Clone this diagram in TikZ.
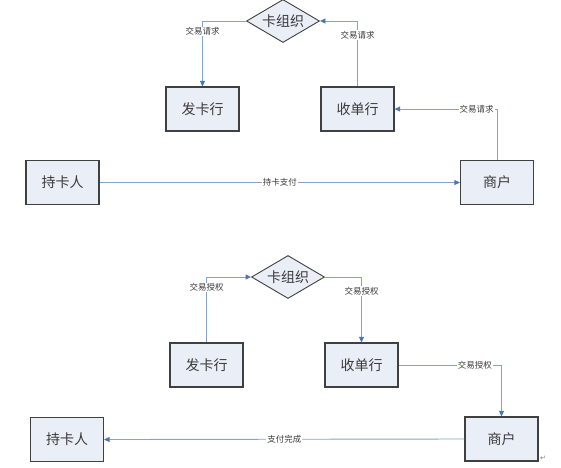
\documentclass[tikz,border=0pt]{standalone}
\usepackage{fontspec}
\setmainfont{Noto Sans CJK SC}
\newfontfamily\symfont{DejaVu Sans}
\usetikzlibrary{shapes.geometric,arrows.meta}
\definecolor{boxfill}{HTML}{E9EEF7}
\definecolor{boxline}{HTML}{404040}
\definecolor{conn}{HTML}{86A3CB}
\definecolor{tipc}{HTML}{4A76B5}
\definecolor{txt}{HTML}{3A3A3A}
\begin{document}
\begin{tikzpicture}[x=1pt,y=-1pt,
  box/.style={draw=boxline, line width=1.2pt, fill=boxfill, minimum width=73pt, minimum height=44pt, inner sep=0pt, text=txt, font=\fontsize{14}{16}\selectfont},
  org/.style={diamond, draw=boxline, line width=0.9pt, fill=boxfill, aspect=1.7, minimum width=73pt, minimum height=43pt, inner sep=0pt, text=txt, font=\fontsize{14}{16}\selectfont},
  conn/.style={draw=conn, line width=0.9pt, -{Triangle[length=5.5pt,width=5pt,color=tipc]}},
  lbl/.style={fill=white, inner sep=1pt, text=txt, font=\fontsize{8.5}{10}\selectfont}]
\useasboundingbox (0,0) rectangle (561,467);
% top diagram
\node[org] (org1) at (283,21) {卡组织};
\node[box] (iss1) at (202.5,109) {发卡行};
\node[box] (acq1) at (357.5,109) {收单行};
\node[box] (mer1) at (497,182.5) {商户};
\node[box] (ch1) at (62.5,182.5) {持卡人};
\draw[conn] (org1.west) -| node[lbl, pos=0.58] {交易请求} (iss1.north);
\draw[conn] (acq1.north) |- node[lbl, pos=0.39] {交易请求} (org1.east);
\draw[conn] (mer1.north) |- node[lbl, pos=0.6] {交易请求} (acq1.east);
\draw[conn] (ch1.east) -- node[lbl] {持卡支付} (mer1.west);
% bottom diagram
\node[org] (org2) at (288,277) {卡组织};
\node[box] (iss2) at (206.5,365) {发卡行};
\node[box] (acq2) at (361.5,365) {收单行};
\node[box] (mer2) at (501.5,439) {商户};
\node[box] (ch2) at (67,439.5) {持卡人};
\draw[conn] (iss2.north) |- node[lbl, pos=0.42] {交易授权} (org2.west);
\draw[conn] (org2.east) -| node[lbl, pos=0.61] {交易授权} (acq2.north);
\draw[conn] (acq2.east) -| node[lbl, pos=0.37] {交易授权} (mer2.north);
\draw[conn] (mer2.west) -- node[lbl] {支付完成} (ch2.east);
\node[text=gray, inner sep=0pt, font=\symfont\fontsize{7}{8}\selectfont] (ret) at (543,458) {↵};
\end{tikzpicture}
\end{document}
